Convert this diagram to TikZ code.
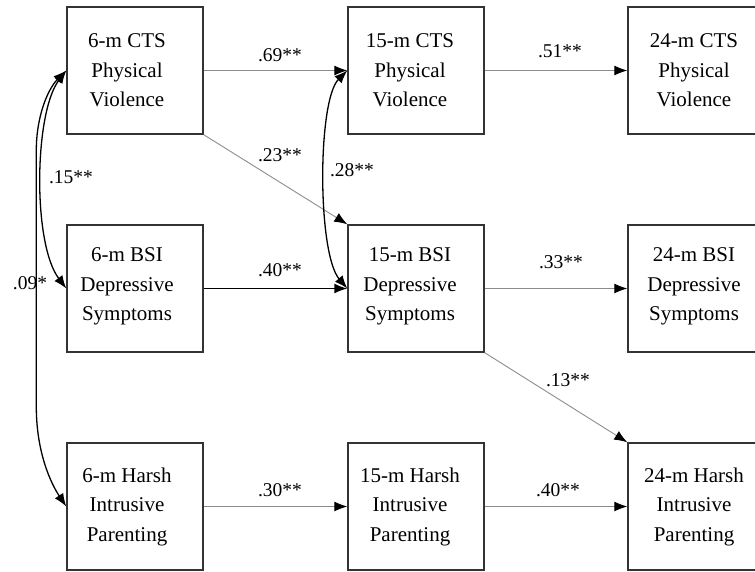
\documentclass[tikz,border=0pt]{standalone}
\usepackage{fontspec}
\setmainfont{Liberation Serif}
\usetikzlibrary{arrows.meta}
\begin{document}
\begin{tikzpicture}[x=1pt,y=1pt,
  box/.style={draw=black!80, line width=1.4pt, minimum width=136pt, minimum height=127pt, inner sep=0pt},
  txt/.style={font=\fontsize{21}{29.5}\selectfont, align=center, inner sep=0pt},
  lab/.style={font=\fontsize{19.5}{22}\selectfont, inner sep=0pt},
  tip/.style={-{Latex[length=13pt,width=10pt,color=black]}},
  thinarrow/.style={draw=black!45, line width=0.9pt, tip},
  thickarrow/.style={draw=black, line width=1.5pt, tip},
  curvarrow/.style={draw=black, line width=1.3pt, {Latex[length=13pt,width=10pt]}-{Latex[length=13pt,width=10pt]}},
]
\useasboundingbox (0,0) rectangle (755,-572);
% boxes
\node[box] (A1) at (135,-70.5) {};
\node[box] (A2) at (135,-288.5) {};
\node[box] (A3) at (135,-506.5) {};
\node[box] (B1) at (416,-70.5) {};
\node[box] (B2) at (416,-288.5) {};
\node[box] (B3) at (416,-506.5) {};
\node[box] (C1) at (696,-70.5) {};
\node[box] (C2) at (696,-288.5) {};
\node[box] (C3) at (696,-506.5) {};
% texts
\node[txt] (A1t) at ([xshift=-8pt]A1.center) {6-m CTS\\Physical\\Violence};
\node[txt] (A2t) at ([xshift=-8pt,yshift=2pt]A2.center) {6-m BSI\\Depressive\\Symptoms};
\node[txt] (A3t) at ([xshift=-8pt]A3.center) {6-m Harsh\\Intrusive\\Parenting};
\node[txt] (B1t) at ([xshift=-6pt]B1.center) {15-m CTS\\Physical\\Violence};
\node[txt] (B2t) at ([xshift=-6pt,yshift=2pt]B2.center) {15-m BSI\\Depressive\\Symptoms};
\node[txt] (B3t) at ([xshift=-6pt]B3.center) {15-m Harsh\\Intrusive\\Parenting};
\node[txt] (C1t) at ([xshift=-2pt]C1.center) {24-m CTS\\Physical\\Violence};
\node[txt] (C2t) at ([xshift=-2pt,yshift=2pt]C2.center) {24-m BSI\\Depressive\\Symptoms};
\node[txt] (C3t) at ([xshift=-2pt]C3.center) {24-m Harsh\\Intrusive\\Parenting};
% paths
\draw[thinarrow] (A1) -- (B1);
\draw[thinarrow] (B1) -- (C1);
\draw[thinarrow] (A1.south east) -- (B2.north west);
\draw[thickarrow] (A2) -- (B2);
\draw[thinarrow] (B2) -- (C2);
\draw[thinarrow] (B2.south east) -- (C3.north west);
\draw[thinarrow] (A3) -- (B3);
\draw[thinarrow] (B3) -- (C3);
% correlations
\draw[curvarrow] (A1.west) .. controls +(-32,-42) and +(-34,45) .. (A2.west);
\draw[curvarrow] (A1.west) .. controls +(-18,-18) and +(0,35) .. ([shift={(-30,-80)}]A1.west)
  -- ([shift={(-30,100)}]A3.west) .. controls +(0,-45) and +(-16,24) .. (A3.west);
\draw[curvarrow] (B1.west) .. controls +(-30,-30) and +(-30,35) .. (B2.west);
% labels
\node[lab] (l69) at (280,-55) {.69**};
\node[lab] (l51) at (560,-51) {.51**};
\node[lab] (l23) at (280,-155) {.23**};
\node[lab] (l15) at (71,-177) {.15**};
\node[lab] (l28) at (352,-170) {.28**};
\node[lab] (l09) at (30,-283) {.09*};
\node[lab] (l40a) at (280,-270) {.40**};
\node[lab] (l33) at (561,-262) {.33**};
\node[lab] (l13) at (568,-380) {.13**};
\node[lab] (l30) at (280,-490) {.30**};
\node[lab] (l40b) at (558,-490) {.40**};
\end{tikzpicture}
\end{document}
